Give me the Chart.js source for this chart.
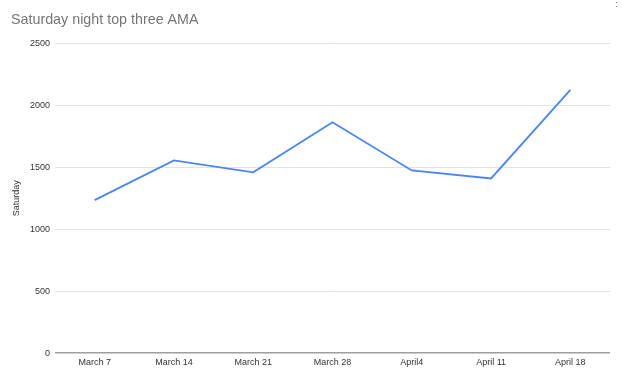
<!DOCTYPE html>
<html>
<head>
<meta charset="utf-8">
<script src="https://cdn.jsdelivr.net/npm/chart.js@4.4.1/dist/chart.umd.min.js"></script>
<style>
  html, body { margin: 0; padding: 0; background: #fff; }
  #wrap { position: relative; width: 622px; height: 375px; }
  #menu { position: absolute; right: 0px; top: -3px; font: 11px "Liberation Sans", Arial, sans-serif; color: #777; }
</style>
</head>
<body>
<div id="wrap">
  <canvas id="satChart" width="622" height="375"></canvas>
  <div id="menu">⋮</div>
</div>
<script>
var labels = ['March 7', 'March 14', 'March 21', 'March 28', 'April4', 'April 11', 'April 18'];
var saturday = [1234, 1554, 1458, 1862, 1474, 1409, 2124];
var yTicks = [0, 500, 1000, 1500, 2000, 2500];

var font = '"Liberation Sans", Arial, sans-serif';

document.addEventListener('DOMContentLoaded', function () {
    var ctx = document.getElementById('satChart').getContext('2d');
    var satChart = new Chart(ctx, {
        type: 'line',
        data: {
            labels: labels,
            datasets: [{
                label: 'Saturday',
                data: saturday,
                borderColor: '#4a86f0',
                borderWidth: 1.8,
                pointRadius: 0,
                tension: 0,
                fill: false
            }]
        },
        options: {
            responsive: false,
            animation: false,
            layout: {
                padding: { left: 11, right: 12, top: 0, bottom: 3 }
            },
            plugins: {
                legend: { display: false },
                tooltip: { enabled: false },
                title: {
                    display: true,
                    text: 'Saturday night top three AMA',
                    align: 'start',
                    color: '#757575',
                    font: { family: font, size: 14.3, weight: 'normal' },
                    padding: { top: 11, bottom: 15 }
                }
            },
            scales: {
                x: {
                    offset: true,
                    grid: { display: false, drawTicks: false },
                    border: { display: false },
                    ticks: {
                        color: '#333',
                        font: { family: font, size: 9 },
                        padding: 4,
                        maxRotation: 0
                    }
                },
                y: {
                    min: 0,
                    max: 2500,
                    afterBuildTicks: function (scale) {
                        scale.ticks = yTicks.map(function (v) { return { value: v }; });
                    },
                    afterFit: function (scale) {
                        scale.width = 44;
                    },
                    grid: {
                        drawTicks: false,
                        color: function (c) { return c.tick && c.tick.value === 0 ? '#9e9e9e' : '#e3e3e3'; },
                        lineWidth: function (c) { return c.tick && c.tick.value === 0 ? 1.6 : 1; }
                    },
                    border: { display: false },
                    ticks: {
                        color: '#333',
                        font: { family: font, size: 9 },
                        padding: 5,
                        callback: function (v) { return String(v); }
                    },
                    title: {
                        display: true,
                        text: 'Saturday',
                        color: '#333',
                        font: { family: font, size: 9 },
                        padding: { top: 0, bottom: 2 }
                    }
                }
            }
        }
    });
});
</script>
</body>
</html>
